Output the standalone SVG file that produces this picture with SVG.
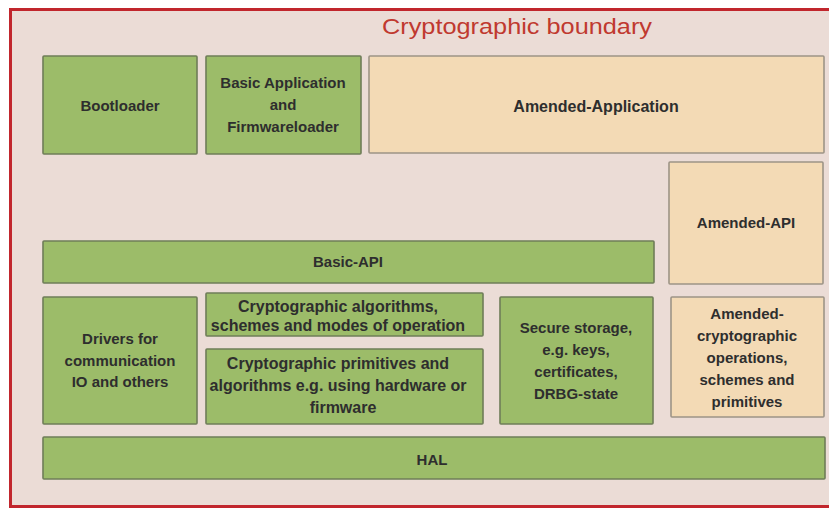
<svg xmlns="http://www.w3.org/2000/svg" width="829" height="509" viewBox="0 0 829 509">
  <style>
    .g { fill: #9cbc69; stroke: #6f7d58; stroke-width: 1.6; }
    .t { fill: #f3dab5; stroke: #9d9486; stroke-width: 1.6; }
    text { font-family: "Liberation Sans", Arial, sans-serif; font-weight: bold; font-size: 15px; fill: #2e2e2e; text-anchor: middle; }
    .big { font-size: 16px; }
    .title { font-weight: normal; font-size: 22px; fill: #c0392f; }
  </style>
  <rect x="0" y="0" width="829" height="509" fill="#ffffff"/>
  <g id="boundary">
    <rect x="10.5" y="9.5" width="830" height="497" fill="#ebdcd6" stroke="#c1262d" stroke-width="3"/>
    <text class="title" x="517" y="34" textLength="270" lengthAdjust="spacingAndGlyphs">Cryptographic boundary</text>
  </g>
  <g id="bootloader">
    <rect class="g" x="43" y="56" width="154" height="98" rx="1"/>
    <text x="120" y="111">Bootloader</text>
  </g>
  <g id="basic-application">
    <rect class="g" x="206" y="56" width="155" height="98" rx="1"/>
    <text x="283" y="88">Basic Application</text>
    <text x="283" y="110">and</text>
    <text x="283" y="132">Firmwareloader</text>
  </g>
  <g id="amended-application">
    <rect class="t" x="369" y="56" width="455" height="97" rx="1"/>
    <text class="big" x="596" y="112">Amended-Application</text>
  </g>
  <g id="amended-api">
    <rect class="t" x="669" y="162" width="154" height="122" rx="1"/>
    <text x="746" y="228">Amended-API</text>
  </g>
  <g id="basic-api">
    <rect class="g" x="43" y="241" width="611" height="42" rx="1"/>
    <text x="348" y="267">Basic-API</text>
  </g>
  <g id="drivers">
    <rect class="g" x="43" y="297" width="154" height="127" rx="1"/>
    <text x="120" y="344">Drivers for</text>
    <text x="120" y="366">communication</text>
    <text x="120" y="387">IO and others</text>
  </g>
  <g id="crypto-algorithms">
    <rect class="g" x="206" y="293" width="277" height="43" rx="1"/>
    <text class="big" x="338" y="312">Cryptographic algorithms,</text>
    <text class="big" x="338" y="331">schemes and modes of operation</text>
  </g>
  <g id="crypto-primitives">
    <rect class="g" x="206" y="349" width="277" height="75" rx="1"/>
    <text class="big" x="338" y="369">Cryptographic primitives and</text>
    <text class="big" x="338" y="391">algorithms e.g. using hardware or</text>
    <text class="big" x="343" y="413">firmware</text>
  </g>
  <g id="secure-storage">
    <rect class="g" x="500" y="297" width="153" height="127" rx="1"/>
    <text x="576" y="333">Secure storage,</text>
    <text x="576" y="355">e.g. keys,</text>
    <text x="576" y="377">certificates,</text>
    <text x="576" y="399">DRBG-state</text>
  </g>
  <g id="amended-crypto">
    <rect class="t" x="671" y="297" width="153" height="120" rx="1"/>
    <text x="747" y="319">Amended-</text>
    <text x="747" y="341">cryptographic</text>
    <text x="747" y="363">operations,</text>
    <text x="747" y="385">schemes and</text>
    <text x="747" y="407">primitives</text>
  </g>
  <g id="hal">
    <rect class="g" x="43" y="437" width="782" height="42" rx="1"/>
    <text x="432" y="465">HAL</text>
  </g>
  <g id="connectors"></g>
</svg>
